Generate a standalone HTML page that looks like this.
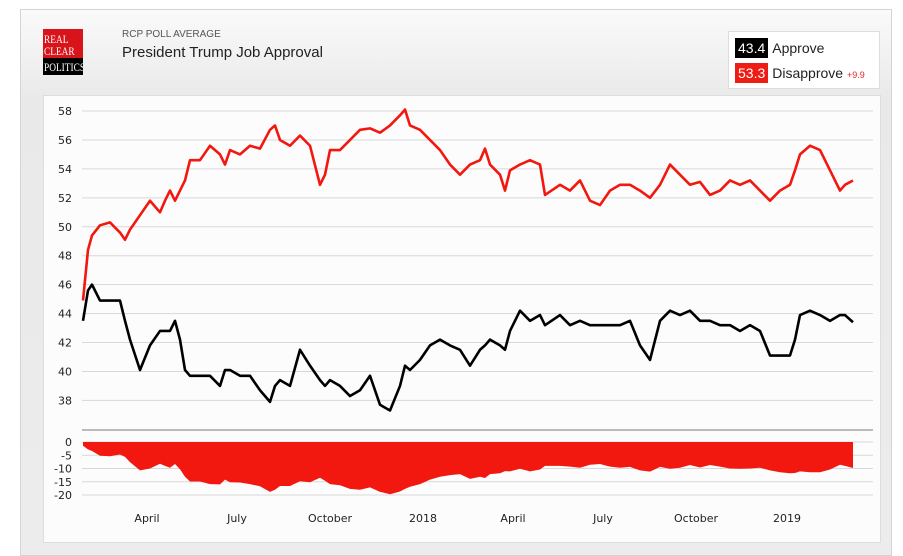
<!DOCTYPE html>
<html><head><meta charset="utf-8"><style>
body{margin:0;width:903px;height:541px;background:#fff;font-family:"Liberation Sans",sans-serif;overflow:hidden;position:relative}
#panel{position:absolute;left:20px;top:9px;width:870px;height:545px;border:1px solid #d4d4d4;background:linear-gradient(#fafafa,#e9e9e9 90px,#ececec)}
#logo{position:absolute;left:43px;top:29px;width:40px;height:46px;font-family:"Liberation Serif",serif;font-size:12px;line-height:12px;color:#fff;overflow:hidden}
#logo .r{background:#d8141a;height:29px;padding:4px 0 0 1px;box-sizing:border-box}
#logo .b{background:#000;height:17px;padding:3px 0 0 1px;box-sizing:border-box}
#logo span{display:inline-block;transform:scaleX(0.78);transform-origin:left}
#sub{position:absolute;left:122px;top:29px;font-size:10px;color:#555}
#title{position:absolute;left:122px;top:44px;font-size:15px;color:#222}
#legend{position:absolute;left:728px;top:31px;width:150px;height:56px;background:#fff;border:1px solid #ddd}
.lg{position:absolute;left:6px;font-size:14px;color:#222}
.lg span.v{display:inline-block;color:#fff;padding:2px 3px;margin-right:4px}
#chartbox{position:absolute;left:43px;top:95px;width:836px;height:446px;background:#fcfcfd;border:1px solid #ddd}
svg{position:absolute;left:0;top:0}
</style></head><body>
<div id="panel"></div>
<div id="logo"><div class="r"><span>REAL</span><br><span>CLEAR</span></div><div class="b"><span>POLITICS</span></div></div>
<div id="sub">RCP POLL AVERAGE</div>
<div id="title">President Trump Job Approval</div>
<div id="legend">
<div class="lg" style="top:6px"><span class="v" style="background:#000">43.4</span>Approve</div>
<div class="lg" style="top:31px"><span class="v" style="background:#ee1c12">53.3</span>Disapprove <span style="color:#e22;font-size:9px">+9.9</span></div>
</div>
<div id="chartbox"></div>
<svg id="chart" width="903" height="541"></svg>
<script>
const dDays=[-340,-335,-331,-323,-313,-303,-298,-293,-283,-273,-263,-258,-253,-248,-243,-238,-233,-223,-213,-203,-198,-193,-183,-173,-163,-153,-148,-143,-133,-123,-113,-103,-98,-93,-83,-73,-63,-53,-43,-33,-23,-18,-13,-3,7,17,27,37,47,57,62,67,77,82,87,97,107,117,122,137,147,157,167,177,187,197,207,217,227,237,247,257,267,277,287,297,307,317,327,337,347,357,367,372,377,387,397,407,417,422,430];
const disapprove=[44.9,48.4,49.4,50.1,50.3,49.6,49.1,49.8,50.8,51.8,51.0,51.8,52.5,51.8,52.5,53.2,54.6,54.6,55.6,55.0,54.3,55.3,55.0,55.6,55.4,56.7,57.0,56.0,55.6,56.3,55.6,52.9,53.6,55.3,55.3,56.0,56.7,56.8,56.5,57.0,57.7,58.1,57.0,56.7,56.0,55.3,54.3,53.6,54.3,54.6,55.4,54.3,53.6,52.5,53.9,54.3,54.6,54.3,52.2,52.9,52.5,53.2,51.8,51.5,52.5,52.9,52.9,52.5,52.0,52.9,54.3,53.6,52.9,53.1,52.2,52.5,53.2,52.9,53.2,52.5,51.8,52.5,52.9,53.9,55.0,55.6,55.3,53.9,52.5,52.9,53.2];
const approve=[43.5,45.6,46.0,44.9,44.9,44.9,43.5,42.2,40.1,41.8,42.8,42.8,42.8,43.5,42.2,40.1,39.7,39.7,39.7,39.0,40.1,40.1,39.7,39.7,38.7,37.9,39.0,39.4,39.0,41.5,40.4,39.4,39.0,39.4,39.0,38.3,38.7,39.7,37.7,37.3,39.0,40.4,40.1,40.8,41.8,42.2,41.8,41.5,40.4,41.5,41.8,42.2,41.8,41.5,42.8,44.2,43.5,43.9,43.2,43.9,43.2,43.5,43.2,43.2,43.2,43.2,43.5,41.8,40.8,43.5,44.2,43.9,44.2,43.5,43.5,43.2,43.2,42.8,43.2,42.8,41.1,41.1,41.1,42.2,43.9,44.2,43.9,43.5,43.9,43.9,43.4];
const yTicks=[38,40,42,44,46,48,50,52,54,56,58];
const sTicks=[0,-5,-10,-15,-20];
const xLabels=["April","July","October","2018","April","July","October","2019"];
const xLabelDays=[-276,-186,-93,0,90,180,273,364];
const NS="http://www.w3.org/2000/svg";
const svg=document.getElementById('chart');
const X=d=>423+d*1.0;
const Y=v=>111+(58-v)*14.47;
const S=v=>442-v*2.65;
function mk(t,a){const e=document.createElementNS(NS,t);for(const k in a)e.setAttribute(k,a[k]);svg.appendChild(e);return e;}
yTicks.forEach(t=>{
 const l=mk('line',{x1:82,x2:873,y1:Y(t),y2:Y(t),stroke:'#d8d8d8','stroke-width':1});
 
 
 const tx=mk('text',{x:72,y:Y(t)+4,'text-anchor':'end','font-size':11,fill:'#222','font-family':'DejaVu Sans, sans-serif'});
 tx.textContent=t;
 
 
});
const sep=mk('line',{x1:82,x2:873,y1:430,y2:430,stroke:'#bbb','stroke-width':2});


sTicks.forEach(t=>{
 const l=mk('line',{x1:82,x2:873,y1:S(t),y2:S(t),stroke:'#d8d8d8','stroke-width':1});
 
 
 const tx=mk('text',{x:72,y:S(t)+4,'text-anchor':'end','font-size':11,fill:'#222','font-family':'DejaVu Sans, sans-serif'});
 tx.textContent=t;
 
 
});
let p='M'+X(dDays[0])+','+S(0);
dDays.forEach((d,i)=>{p+=' L'+X(d)+','+S(approve[i]-disapprove[i]);});
p+=' L'+X(dDays[dDays.length-1])+','+S(0)+' Z';
const area=mk('path',{d:p,fill:'#f2170f'});


function line(arr,col,name){
 const pts=dDays.map((d,i)=>X(d)+','+Y(arr[i])).join(' ');
 const pl=mk('polyline',{points:pts,fill:'none',stroke:col,'stroke-width':2.6,'stroke-linejoin':'round'});
 
 
}
line(disapprove,'#f2170f','disapprove-line');
line(approve,'#000','approve-line');
xLabels.forEach((s,i)=>{
 const tx=mk('text',{x:X(xLabelDays[i]),y:522,'text-anchor':'middle','font-size':11,fill:'#222','font-family':'DejaVu Sans, sans-serif'});
 tx.textContent=s;
 
 
});
</script>
</body></html>
